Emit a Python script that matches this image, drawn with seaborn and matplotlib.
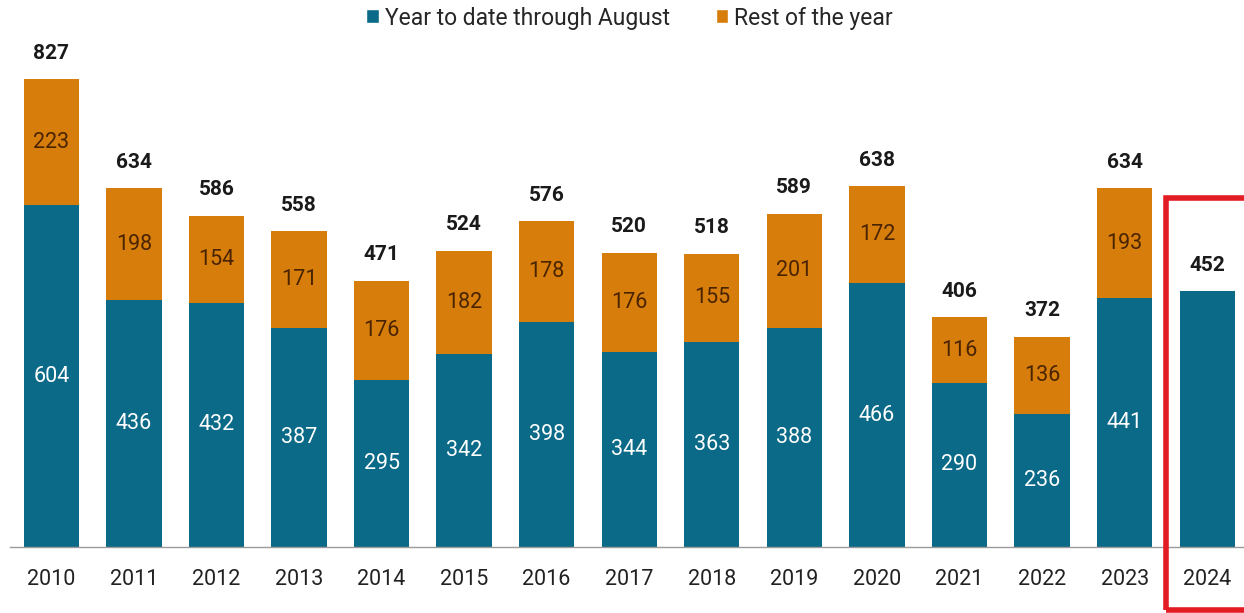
import matplotlib
matplotlib.use("Agg")
import matplotlib.pyplot as plt
from matplotlib.patches import Rectangle, Patch
import seaborn as sns
import pandas as pd

years = ["2010", "2011", "2012", "2013", "2014", "2015", "2016", "2017",
         "2018", "2019", "2020", "2021", "2022", "2023", "2024"]
ytd_august = [604, 436, 432, 387, 295, 342, 398, 344, 363, 388, 466, 290, 236, 441, 452]
rest_of_year = [223, 198, 154, 171, 176, 182, 178, 176, 155, 201, 172, 116, 136, 193, 0]

TEAL = "#0a6a88"
ORANGE = "#d67d0c"
HIGHLIGHT = "#e31b23"

sns.set_theme(style="white")
plt.rcParams["font.family"] = ["Roboto", "DejaVu Sans"]

df = pd.DataFrame({"year": years, "ytd": ytd_august, "rest": rest_of_year})
df["total"] = df["ytd"] + df["rest"]
# the current year is still in progress, so it has no split to label
df["complete"] = df["rest"] > 0

fig = plt.figure(figsize=(12.44, 6.13), dpi=100)
ax = fig.add_axes([10 / 1244, 66 / 613, 1236 / 1244, 509 / 613])

# stacked bars: full-year total underneath, year-to-date layered on top
sns.barplot(data=df, x="year", y="total", color=ORANGE, width=0.67,
            saturation=1, linewidth=0, ax=ax)
sns.barplot(data=df, x="year", y="ytd", color=TEAL, width=0.67,
            saturation=1, linewidth=0, ax=ax)

for i, row in df.iterrows():
    if row["complete"]:
        ax.text(i, row["ytd"] / 2, f"{row['ytd']}", ha="center", va="center",
                color="white", fontsize=15.5)
        ax.text(i, row["ytd"] + row["rest"] / 2, f"{row['rest']}",
                ha="center", va="center", color="#4a2400", fontsize=15.5)
    ax.annotate(f"{row['total']}", (i, row["total"]), xytext=(0, 12),
                textcoords="offset points", ha="center", va="bottom",
                fontsize=15, fontweight="bold", color="#1a1a1a")

ax.set_xlim(-0.5, 14.47)
ax.set_ylim(0, 900)
ax.set_xlabel("")
ax.set_ylabel("")
ax.set_yticks([])
for side in ["top", "right", "left"]:
    ax.spines[side].set_visible(False)
ax.spines["bottom"].set_color("#9a9a9a")
ax.spines["bottom"].set_linewidth(1.0)
ax.tick_params(axis="x", length=0, pad=16, labelsize=15.5, labelcolor="#222222")

handles = [Patch(facecolor=TEAL, label="Year to date through August"),
           Patch(facecolor=ORANGE, label="Rest of the year")]
fig.legend(handles=handles, loc="center", bbox_to_anchor=(0.506, 1 - 18 / 613),
           ncol=2, frameon=False, fontsize=16.5, handlelength=0.55,
           handleheight=0.55, handletextpad=0.25, columnspacing=2.0)

# highlight box around the latest year
fig.add_artist(Rectangle((1166 / 1244, 3 / 613), 90 / 1244, (613 - 201) / 613,
                         transform=fig.transFigure, fill=False,
                         edgecolor=HIGHLIGHT, linewidth=4, clip_on=False))

fig.savefig("out.png", dpi=100)
